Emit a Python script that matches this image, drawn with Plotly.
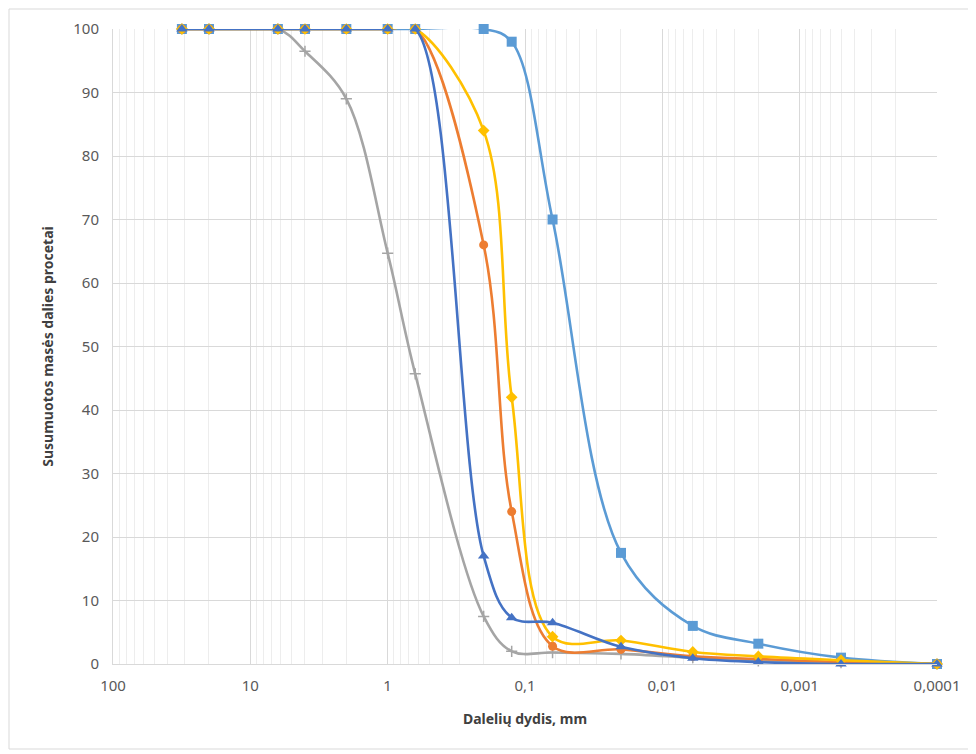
import plotly.graph_objects as go

# Particle sizes, mm
sizes = [31.5, 20, 6.3, 4, 2, 1, 0.63, 0.2, 0.125, 0.063, 0.02, 0.006, 0.002, 0.0005, 0.0001]

light_blue = [100, 100, 100, 100, 100, 100, 100, 100, 98, 70, 17.5, 6, 3.2, 1, 0]
gray_s     = [100, 100, 100, 96.5, 89, 64.7, 45.7, 7.5, 2, 1.8, 1.6, 1.0, 0.5, 0.2, 0]
orange_s   = [100, 100, 100, 100, 100, 100, 100, 66, 24, 2.8, 2.3, 1.2, 0.8, 0.3, 0]
yellow_s   = [100, 100, 100, 100, 100, 100, 100, 84, 42, 4.3, 3.7, 1.9, 1.2, 0.6, 0]
dark_blue  = [100, 100, 100, 100, 100, 100, 100, 17, 7.3, 6.5, 2.7, 0.9, 0.3, 0, 0]

x_tickvals = [100, 10, 1, 0.1, 0.01, 0.001, 0.0001]
x_ticktext = ["100", "10", "1", "0,1", "0,01", "0,001", "0,0001"]

series = [
    ("light_blue", light_blue, "#5B9BD5", "square", 10),
    ("gray", gray_s, "#A5A5A5", "cross-thin", 8),
    ("orange", orange_s, "#ED7D31", "circle", 9),
    ("yellow", yellow_s, "#FFC000", "diamond", 9),
    ("dark_blue", dark_blue, "#4472C4", "triangle-up", 10),
]

fig = go.Figure()
for name, ys, col, sym, sz in series:
    mk = dict(color=col, symbol=sym, size=sz)
    if sym == "cross-thin":
        mk["line"] = dict(color=col, width=1.5)
    fig.add_trace(go.Scatter(
        x=sizes, y=ys, mode="lines+markers", name=name,
        line=dict(color=col, width=2.6, shape="spline", smoothing=1.0),
        marker=mk, cliponaxis=False, showlegend=False,
    ))

# minor gridlines 2..9 in every decade
minor_vals = []
for e in range(-4, 2):
    for d in range(2, 10):
        minor_vals.append(d * 10 ** e)

W, H = 968, 746
ML, MR, MT, MB = 105, 39, 21, 90
fig.update_layout(
    width=W, height=H,
    margin=dict(l=ML, r=MR, t=MT, b=MB, autoexpand=False),
    paper_bgcolor="white", plot_bgcolor="white",
    font=dict(family="Noto Sans", size=13, color="#595959"),
    xaxis=dict(
        type="log", range=[2, -4], automargin=False,
        tickvals=x_tickvals, ticktext=x_ticktext,
        showgrid=True, gridcolor="#D9D9D9", gridwidth=1,
        minor=dict(tickvals=minor_vals, showgrid=True, gridcolor="#EDEDED", gridwidth=1, ticks=""),
        ticks="outside", ticklen=8, tickcolor="rgba(0,0,0,0)",
        showline=True, linecolor="#D9D9D9", linewidth=1, zeroline=False,
        title=dict(text="<b>Dalelių dydis, mm</b>", font=dict(size=14, color="#404040"), standoff=20),
        tickfont=dict(size=15, color="#595959"),
    ),
    yaxis=dict(
        range=[0, 100], dtick=10, automargin=False,
        showgrid=True, gridcolor="#D9D9D9", gridwidth=1,
        ticks="outside", ticklen=10, tickcolor="rgba(0,0,0,0)",
        showline=True, linecolor="#D9D9D9", linewidth=1, zeroline=False,
        title=dict(text="<b>Susumuotos masės dalies procetai</b>", font=dict(size=14, color="#404040"), standoff=16),
        tickfont=dict(size=15, color="#595959"),
    ),
)

# outer chart frame (figure pixel coordinates -> paper)
pw, ph = W - ML - MR, H - MT - MB
def px(x): return (x - ML) / pw
def py(y): return (H - MB - y) / ph
fig.add_shape(type="rect", xref="paper", yref="paper",
              x0=px(1), x1=px(962), y0=py(741), y1=py(1),
              line=dict(color="#D9D9D9", width=1), fillcolor="rgba(0,0,0,0)", layer="below")

fig.write_html("out.html")
